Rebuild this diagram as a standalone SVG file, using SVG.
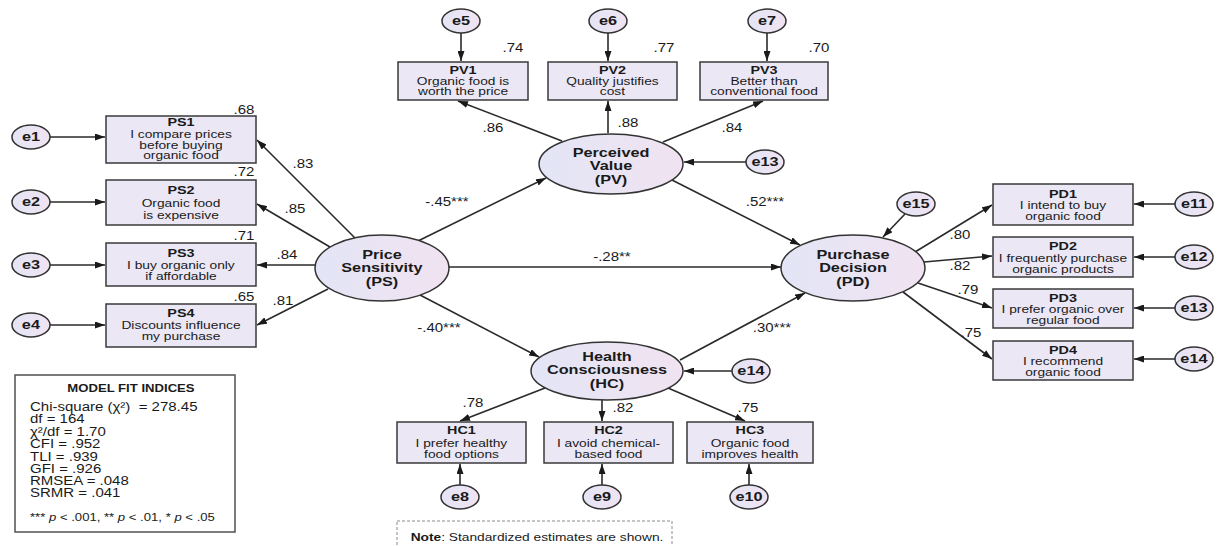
<svg xmlns="http://www.w3.org/2000/svg" width="1226" height="546" viewBox="0 0 1226 546">
<style>
text { font-family: "Liberation Sans", Arial, sans-serif; fill: #1a1a1a; text-anchor: middle; transform-box: fill-box; transform-origin: center; transform: scaleX(1.25); }
.l { text-anchor: start; transform-origin: left center; }
.h { font-weight: bold; font-size: 11.5px; }
.b { font-size: 11px; }
.lat { font-weight: bold; font-size: 13px; }
.err { font-weight: bold; font-size: 13px; }
.c { font-size: 12px; }
.fit { font-size: 12px; }
.box { fill: #ebe7f5; stroke: #3a3a3a; stroke-width: 1.5; }
.lv { fill: url(#lg); stroke: #333; stroke-width: 1.5; }
.cn { stroke: #2a2a2a; stroke-width: 1.6; fill: none; marker-end: url(#ah); }
</style>
<defs>
<linearGradient id="lg" x1="0" y1="0" x2="1" y2="0">
<stop offset="0" stop-color="#e3e5f6"/>
<stop offset="1" stop-color="#f1e3f1"/>
</linearGradient>
<marker id="ah" viewBox="0 0 10 7" refX="10" refY="3.5" markerWidth="10" markerHeight="7" markerUnits="userSpaceOnUse" orient="auto">
<path d="M0,0 L10,3.5 L0,7 z" fill="#1a1a1a"/>
</marker>
</defs>
<rect x="0" y="0" width="1226" height="546" fill="#ffffff"/>

<g id="connectors">
<line class="cn" x1="355" y1="238" x2="257" y2="140"/>
<line class="cn" x1="330" y1="247" x2="257" y2="204"/>
<line class="cn" x1="315" y1="265" x2="257" y2="265"/>
<line class="cn" x1="328" y1="289" x2="257" y2="325"/>
<line class="cn" x1="418" y1="241" x2="546" y2="178"/>
<line class="cn" x1="449" y1="267" x2="781" y2="267"/>
<line class="cn" x1="420" y1="295" x2="539" y2="357"/>
<line class="cn" x1="672" y1="180" x2="800" y2="245"/>
<line class="cn" x1="680" y1="360" x2="805" y2="293"/>
<line class="cn" x1="562" y1="141" x2="458" y2="101"/>
<line class="cn" x1="608" y1="133" x2="608" y2="101"/>
<line class="cn" x1="663" y1="142" x2="763" y2="101"/>
<line class="cn" x1="545" y1="388" x2="460" y2="421"/>
<line class="cn" x1="602" y1="400" x2="602" y2="421"/>
<line class="cn" x1="668" y1="388" x2="745" y2="421"/>
<line class="cn" x1="915" y1="252" x2="992" y2="205"/>
<line class="cn" x1="924" y1="262" x2="992" y2="256"/>
<line class="cn" x1="918" y1="283" x2="992" y2="308"/>
<line class="cn" x1="903" y1="292" x2="992" y2="359"/>
<line class="cn" x1="49" y1="137" x2="105" y2="137"/>
<line class="cn" x1="49" y1="202" x2="105" y2="202"/>
<line class="cn" x1="49" y1="265" x2="105" y2="265"/>
<line class="cn" x1="49" y1="325" x2="105" y2="325"/>
<line class="cn" x1="461" y1="33" x2="461" y2="61"/>
<line class="cn" x1="608" y1="33" x2="608" y2="61"/>
<line class="cn" x1="767" y1="33" x2="767" y2="61"/>
<line class="cn" x1="746" y1="162" x2="684" y2="162"/>
<line class="cn" x1="905" y1="214" x2="883" y2="237"/>
<line class="cn" x1="1175" y1="204" x2="1134" y2="204"/>
<line class="cn" x1="1175" y1="257" x2="1134" y2="257"/>
<line class="cn" x1="1175" y1="308" x2="1134" y2="308"/>
<line class="cn" x1="1175" y1="359" x2="1134" y2="359"/>
<line class="cn" x1="732" y1="371" x2="684" y2="371"/>
<line class="cn" x1="460" y1="485" x2="460" y2="464"/>
<line class="cn" x1="602" y1="485" x2="602" y2="464"/>
<line class="cn" x1="749" y1="485" x2="749" y2="464"/>
</g>

<g id="PS">
<ellipse class="lv" cx="382" cy="268" rx="67" ry="33"/>
<text class="lat" x="382" y="259">Price</text>
<text class="lat" x="382" y="272.5">Sensitivity</text>
<text class="lat" x="382" y="286">(PS)</text>
</g>
<g id="PV">
<ellipse class="lv" cx="611" cy="164" rx="72" ry="30"/>
<text class="lat" x="611" y="157">Perceived</text>
<text class="lat" x="611" y="170.5">Value</text>
<text class="lat" x="611" y="184">(PV)</text>
</g>
<g id="PD">
<ellipse class="lv" cx="853" cy="268" rx="72" ry="33"/>
<text class="lat" x="853" y="259">Purchase</text>
<text class="lat" x="853" y="272.5">Decision</text>
<text class="lat" x="853" y="286">(PD)</text>
</g>
<g id="HC">
<ellipse class="lv" cx="607" cy="371" rx="76" ry="29"/>
<text class="lat" x="607" y="361">Health</text>
<text class="lat" x="607" y="374.5">Consciousness</text>
<text class="lat" x="607" y="388">(HC)</text>
</g>

<g id="PS1"><rect class="box" x="106" y="116" width="150" height="47"/>
<text class="h" x="181" y="126">PS1</text><text class="b" x="181" y="138">I compare prices</text><text class="b" x="181" y="149">before buying</text><text class="b" x="181" y="159.5">organic food</text></g>
<g id="PS2"><rect class="box" x="106" y="180" width="150" height="45"/>
<text class="h" x="181" y="194">PS2</text><text class="b" x="181" y="207">Organic food</text><text class="b" x="181" y="219">is expensive</text></g>
<g id="PS3"><rect class="box" x="106" y="243" width="150" height="43"/>
<text class="h" x="181" y="257">PS3</text><text class="b" x="181" y="269">I buy organic only</text><text class="b" x="181" y="280">if affordable</text></g>
<g id="PS4"><rect class="box" x="106" y="304" width="150" height="43"/>
<text class="h" x="181" y="317">PS4</text><text class="b" x="181" y="329">Discounts influence</text><text class="b" x="181" y="340.5">my purchase</text></g>

<g id="PV1"><rect class="box" x="398" y="62" width="130" height="38"/>
<text class="h" x="463" y="74">PV1</text><text class="b" x="463" y="85">Organic food is</text><text class="b" x="463" y="95.5">worth the price</text></g>
<g id="PV2"><rect class="box" x="548" y="62" width="129" height="38"/>
<text class="h" x="612.5" y="74">PV2</text><text class="b" x="612.5" y="85">Quality justifies</text><text class="b" x="612.5" y="95.5">cost</text></g>
<g id="PV3"><rect class="box" x="700" y="62" width="128" height="38"/>
<text class="h" x="764" y="74">PV3</text><text class="b" x="764" y="85">Better than</text><text class="b" x="764" y="95.5">conventional food</text></g>

<g id="PD1"><rect class="box" x="993" y="184" width="140" height="41"/>
<text class="h" x="1063" y="198">PD1</text><text class="b" x="1063" y="209.5">I intend to buy</text><text class="b" x="1063" y="220.5">organic food</text></g>
<g id="PD2"><rect class="box" x="993" y="237" width="140" height="40"/>
<text class="h" x="1063" y="250.5">PD2</text><text class="b" x="1063" y="262">I frequently purchase</text><text class="b" x="1063" y="273">organic products</text></g>
<g id="PD3"><rect class="box" x="993" y="289" width="140" height="39"/>
<text class="h" x="1063" y="302">PD3</text><text class="b" x="1063" y="313.5">I prefer organic over</text><text class="b" x="1063" y="324.5">regular food</text></g>
<g id="PD4"><rect class="box" x="993" y="341" width="140" height="39"/>
<text class="h" x="1063" y="354">PD4</text><text class="b" x="1063" y="365.5">I recommend</text><text class="b" x="1063" y="376.5">organic food</text></g>

<g id="HC1"><rect class="box" x="397" y="422" width="129" height="41"/>
<text class="h" x="461.5" y="434.5">HC1</text><text class="b" x="461.5" y="447">I prefer healthy</text><text class="b" x="461.5" y="458">food options</text></g>
<g id="HC2"><rect class="box" x="544" y="422" width="129" height="41"/>
<text class="h" x="608.5" y="434.5">HC2</text><text class="b" x="608.5" y="447">I avoid chemical-</text><text class="b" x="608.5" y="458">based food</text></g>
<g id="HC3"><rect class="box" x="687" y="422" width="126" height="41"/>
<text class="h" x="750" y="434.5">HC3</text><text class="b" x="750" y="447">Organic food</text><text class="b" x="750" y="458">improves health</text></g>

<g id="e1"><ellipse class="lv" cx="31" cy="137" rx="19" ry="12"/><text class="err" x="31" y="141.5">e1</text></g>
<g id="e2"><ellipse class="lv" cx="31" cy="202" rx="19" ry="12"/><text class="err" x="31" y="206.5">e2</text></g>
<g id="e3"><ellipse class="lv" cx="31" cy="265" rx="19" ry="12"/><text class="err" x="31" y="269.5">e3</text></g>
<g id="e4"><ellipse class="lv" cx="31" cy="325" rx="19" ry="12"/><text class="err" x="31" y="329.5">e4</text></g>
<g id="e5"><ellipse class="lv" cx="461" cy="21" rx="19" ry="12"/><text class="err" x="461" y="25.5">e5</text></g>
<g id="e6"><ellipse class="lv" cx="608" cy="21" rx="19" ry="12"/><text class="err" x="608" y="25.5">e6</text></g>
<g id="e7"><ellipse class="lv" cx="767" cy="21" rx="19" ry="12"/><text class="err" x="767" y="25.5">e7</text></g>
<g id="e13-pv"><ellipse class="lv" cx="765" cy="162" rx="19" ry="12"/><text class="err" x="765" y="166.5">e13</text></g>
<g id="e15"><ellipse class="lv" cx="916" cy="204" rx="19" ry="12"/><text class="err" x="916" y="208.5">e15</text></g>
<g id="e11"><ellipse class="lv" cx="1194" cy="204" rx="19" ry="12"/><text class="err" x="1194" y="208.5">e11</text></g>
<g id="e12"><ellipse class="lv" cx="1194" cy="257" rx="19" ry="12"/><text class="err" x="1194" y="261.5">e12</text></g>
<g id="e13-pd"><ellipse class="lv" cx="1194" cy="308" rx="19" ry="12"/><text class="err" x="1194" y="312.5">e13</text></g>
<g id="e14-pd"><ellipse class="lv" cx="1194" cy="359" rx="19" ry="12"/><text class="err" x="1194" y="363.5">e14</text></g>
<g id="e14-hc"><ellipse class="lv" cx="751" cy="371" rx="19" ry="12"/><text class="err" x="751" y="375.5">e14</text></g>
<g id="e8"><ellipse class="lv" cx="460" cy="497" rx="19" ry="12"/><text class="err" x="460" y="501.5">e8</text></g>
<g id="e9"><ellipse class="lv" cx="602" cy="497" rx="19" ry="12"/><text class="err" x="602" y="501.5">e9</text></g>
<g id="e10"><ellipse class="lv" cx="749" cy="497" rx="19" ry="12"/><text class="err" x="749" y="501.5">e10</text></g>

<g id="estimates">
<text class="c" x="244" y="114">.68</text>
<text class="c" x="244" y="176">.72</text>
<text class="c" x="244" y="240">.71</text>
<text class="c" x="244" y="301">.65</text>
<text class="c" x="303" y="168">.83</text>
<text class="c" x="295" y="213">.85</text>
<text class="c" x="287" y="259">.84</text>
<text class="c" x="283" y="305">.81</text>
<text class="c" x="513" y="52">.74</text>
<text class="c" x="664" y="52">.77</text>
<text class="c" x="819" y="52">.70</text>
<text class="c" x="493" y="132">.86</text>
<text class="c" x="628" y="127">.88</text>
<text class="c" x="732" y="132">.84</text>
<text class="c" x="447" y="206">-.45***</text>
<text class="c" x="765" y="206">.52***</text>
<text class="c" x="612" y="261">-.28**</text>
<text class="c" x="960" y="239">.80</text>
<text class="c" x="960" y="270">.82</text>
<text class="c" x="968" y="294">.79</text>
<text class="c" x="971" y="337">.75</text>
<text class="c" x="439" y="332">-.40***</text>
<text class="c" x="772" y="332">.30***</text>
<text class="c" x="473" y="407">.78</text>
<text class="c" x="623" y="412">.82</text>
<text class="c" x="748" y="412">.75</text>
</g>

<g id="model-fit">
<rect x="15" y="375" width="220" height="157" fill="#ffffff" stroke="#505050" stroke-width="1.5"/>
<text x="131" y="392" font-size="10.5px" font-weight="bold">MODEL FIT INDICES</text>
<text class="l fit" x="30" y="411" xml:space="preserve">Chi-square (χ²)  = 278.45</text>
<text class="l fit" x="30" y="423">df = 164</text>
<text class="l fit" x="30" y="436">χ²/df = 1.70</text>
<text class="l fit" x="30" y="448">CFI = .952</text>
<text class="l fit" x="30" y="461">TLI = .939</text>
<text class="l fit" x="30" y="473">GFI = .926</text>
<text class="l fit" x="30" y="485">RMSEA = .048</text>
<text class="l fit" x="30" y="497">SRMR = .041</text>
<text class="l" x="30" y="521" font-size="10.5px">*** <tspan font-style="italic">p</tspan> &lt; .001, ** <tspan font-style="italic">p</tspan> &lt; .01, * <tspan font-style="italic">p</tspan> &lt; .05</text>
</g>

<g id="note">
<rect x="397" y="521" width="275" height="32" fill="#ffffff" stroke="#8a8a8a" stroke-width="1" stroke-dasharray="3,2"/>
<text x="537" y="541" font-size="11px"><tspan font-weight="bold">Note</tspan>: Standardized estimates are shown.</text>
</g>
</svg>
